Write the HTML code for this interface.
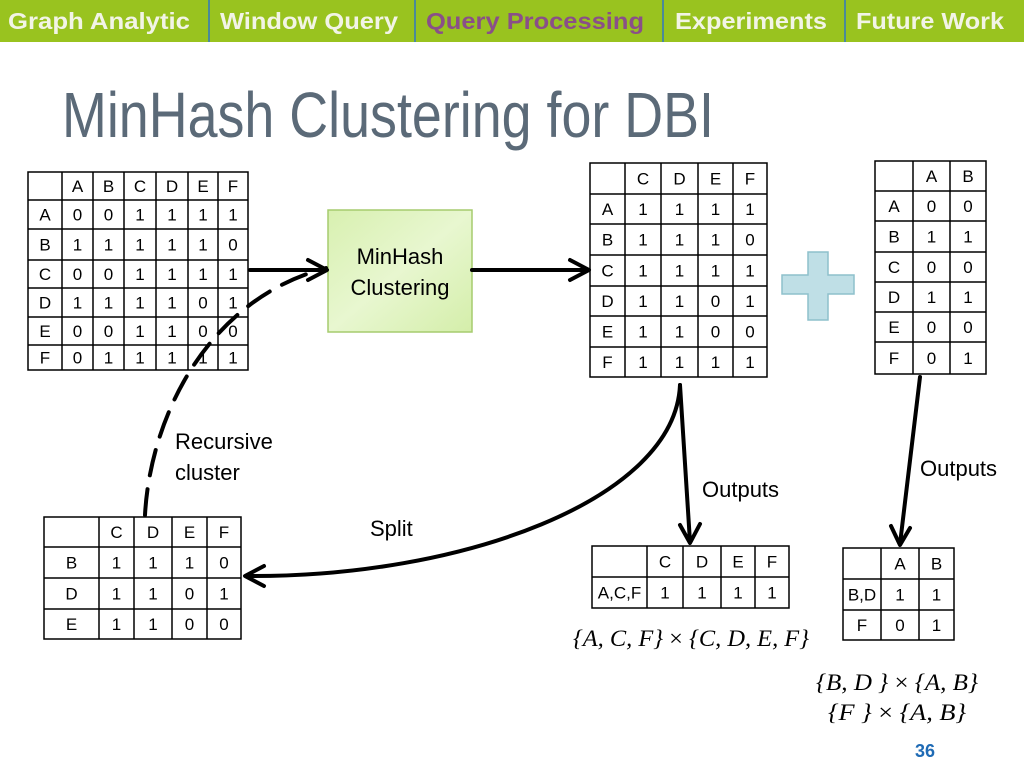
<!DOCTYPE html>
<html><head><meta charset="utf-8"><style>
html,body{margin:0;padding:0;background:#fff;}
svg{display:block;}
.t{font-family:"Liberation Sans",sans-serif;font-size:17px;text-anchor:middle;fill:#000;}
.g{fill:none;stroke:#000;stroke-width:1.5;}
.lab{font-family:"Liberation Sans",sans-serif;font-size:22px;fill:#000;}
.m{font-family:"Liberation Serif",serif;font-size:23px;font-style:italic;fill:#000;text-anchor:middle;}
.tab{font-family:"Liberation Sans",sans-serif;font-size:23px;font-weight:bold;fill:#f2f4e6;}
</style></head><body>
<svg width="1024" height="768" viewBox="0 0 1024 768" xmlns="http://www.w3.org/2000/svg">
<defs>
<linearGradient id="gb" x1="0" y1="0" x2="1" y2="1"><stop offset="0" stop-color="#d8f0b0"/><stop offset="0.5" stop-color="#e8f7d0"/><stop offset="1" stop-color="#d4eeaa"/></linearGradient>
</defs>
<rect x="0" y="0" width="1024" height="42" fill="#99c31f"/>
<g stroke="#4a8a9a" stroke-width="2"><line x1="209" y1="0" x2="209" y2="42"/><line x1="415" y1="0" x2="415" y2="42"/><line x1="663" y1="0" x2="663" y2="42"/><line x1="845" y1="0" x2="845" y2="42"/></g>
<text class="tab" x="8" y="29" textLength="182" lengthAdjust="spacingAndGlyphs">Graph Analytic</text>
<text class="tab" x="220" y="29" textLength="178" lengthAdjust="spacingAndGlyphs">Window Query</text>
<text class="tab" x="426" y="29" style="fill:#8a4f88" textLength="218" lengthAdjust="spacingAndGlyphs">Query Processing</text>
<text class="tab" x="675" y="29" textLength="152" lengthAdjust="spacingAndGlyphs">Experiments</text>
<text class="tab" x="856" y="29" textLength="148" lengthAdjust="spacingAndGlyphs">Future Work</text>
<text x="62" y="137" font-family="'Liberation Sans Narrow','Liberation Sans',sans-serif" font-size="64" fill="#5b6a78" textLength="652" lengthAdjust="spacingAndGlyphs">MinHash Clustering for DBI</text>

<rect x="28" y="172" width="220" height="198" class="g"/>
<g class="g"><path d="M62 172V370M93 172V370M124 172V370M156 172V370M188 172V370M218 172V370M28 200H248M28 229H248M28 260H248M28 288H248M28 317H248M28 345H248"/></g>
<g class="t">
<text x="77.5" y="192">A</text><text x="108.5" y="192">B</text><text x="140" y="192">C</text><text x="172" y="192">D</text><text x="203" y="192">E</text><text x="233" y="192">F</text>
<text x="45" y="220.5">A</text><text x="77.5" y="220.5">0</text><text x="108.5" y="220.5">0</text><text x="140" y="220.5">1</text><text x="172" y="220.5">1</text><text x="203" y="220.5">1</text><text x="233" y="220.5">1</text>
<text x="45" y="250.5">B</text><text x="77.5" y="250.5">1</text><text x="108.5" y="250.5">1</text><text x="140" y="250.5">1</text><text x="172" y="250.5">1</text><text x="203" y="250.5">1</text><text x="233" y="250.5">0</text>
<text x="45" y="280">C</text><text x="77.5" y="280">0</text><text x="108.5" y="280">0</text><text x="140" y="280">1</text><text x="172" y="280">1</text><text x="203" y="280">1</text><text x="233" y="280">1</text>
<text x="45" y="308.5">D</text><text x="77.5" y="308.5">1</text><text x="108.5" y="308.5">1</text><text x="140" y="308.5">1</text><text x="172" y="308.5">1</text><text x="203" y="308.5">0</text><text x="233" y="308.5">1</text>
<text x="45" y="337">E</text><text x="77.5" y="337">0</text><text x="108.5" y="337">0</text><text x="140" y="337">1</text><text x="172" y="337">1</text><text x="203" y="337">0</text><text x="233" y="337">0</text>
<text x="45" y="363.5">F</text><text x="77.5" y="363.5">0</text><text x="108.5" y="363.5">1</text><text x="140" y="363.5">1</text><text x="172" y="363.5">1</text><text x="203" y="363.5">1</text><text x="233" y="363.5">1</text>
</g>

<rect x="328" y="210" width="144" height="122" fill="url(#gb)" stroke="#a6cc6e" stroke-width="1.5"/>
<text class="lab" x="400" y="264" text-anchor="middle">MinHash</text>
<text class="lab" x="400" y="295" text-anchor="middle">Clustering</text>

<rect x="590" y="163" width="177" height="214" class="g"/>
<g class="g"><path d="M625 163V377M661 163V377M698 163V377M733 163V377M590 194H767M590 224H767M590 255H767M590 286H767M590 316H767M590 347H767"/></g>
<g class="t">
<text x="643" y="184.5">C</text><text x="679.5" y="184.5">D</text><text x="715.5" y="184.5">E</text><text x="750" y="184.5">F</text>
<text x="607.5" y="215">A</text><text x="643" y="215">1</text><text x="679.5" y="215">1</text><text x="715.5" y="215">1</text><text x="750" y="215">1</text>
<text x="607.5" y="245.5">B</text><text x="643" y="245.5">1</text><text x="679.5" y="245.5">1</text><text x="715.5" y="245.5">1</text><text x="750" y="245.5">0</text>
<text x="607.5" y="276.5">C</text><text x="643" y="276.5">1</text><text x="679.5" y="276.5">1</text><text x="715.5" y="276.5">1</text><text x="750" y="276.5">1</text>
<text x="607.5" y="307">D</text><text x="643" y="307">1</text><text x="679.5" y="307">1</text><text x="715.5" y="307">0</text><text x="750" y="307">1</text>
<text x="607.5" y="337.5">E</text><text x="643" y="337.5">1</text><text x="679.5" y="337.5">1</text><text x="715.5" y="337.5">0</text><text x="750" y="337.5">0</text>
<text x="607.5" y="368">F</text><text x="643" y="368">1</text><text x="679.5" y="368">1</text><text x="715.5" y="368">1</text><text x="750" y="368">1</text>
</g>

<path d="M808 252H828V275H854V294H828V320H808V294H782V275H808Z" fill="#bfdfe6" stroke="#8ec0cc" stroke-width="1.5"/>

<rect x="875" y="161" width="111" height="213" class="g"/>
<g class="g"><path d="M913 161V374M950 161V374M875 191H986M875 221H986M875 252H986M875 282H986M875 312H986M875 342H986"/></g>
<g class="t">
<text x="931.5" y="182">A</text><text x="968" y="182">B</text>
<text x="894" y="212">A</text><text x="931.5" y="212">0</text><text x="968" y="212">0</text>
<text x="894" y="242.5">B</text><text x="931.5" y="242.5">1</text><text x="968" y="242.5">1</text>
<text x="894" y="273">C</text><text x="931.5" y="273">0</text><text x="968" y="273">0</text>
<text x="894" y="303">D</text><text x="931.5" y="303">1</text><text x="968" y="303">1</text>
<text x="894" y="333">E</text><text x="931.5" y="333">0</text><text x="968" y="333">0</text>
<text x="894" y="364">F</text><text x="931.5" y="364">0</text><text x="968" y="364">1</text>
</g>

<rect x="44" y="517" width="197" height="122" class="g"/>
<g class="g"><path d="M99 517V639M134 517V639M172 517V639M207 517V639M44 547H241M44 578H241M44 609H241"/></g>
<g class="t">
<text x="116.5" y="538">C</text><text x="153" y="538">D</text><text x="189.5" y="538">E</text><text x="224" y="538">F</text>
<text x="71.5" y="568.5">B</text><text x="116.5" y="568.5">1</text><text x="153" y="568.5">1</text><text x="189.5" y="568.5">1</text><text x="224" y="568.5">0</text>
<text x="71.5" y="599.5">D</text><text x="116.5" y="599.5">1</text><text x="153" y="599.5">1</text><text x="189.5" y="599.5">0</text><text x="224" y="599.5">1</text>
<text x="71.5" y="630">E</text><text x="116.5" y="630">1</text><text x="153" y="630">1</text><text x="189.5" y="630">0</text><text x="224" y="630">0</text>
</g>

<rect x="592" y="546" width="197" height="62" class="g"/>
<g class="g"><path d="M647 546V608M683 546V608M721 546V608M755 546V608M592 577H789"/></g>
<g class="t">
<text x="665" y="567.5">C</text><text x="702" y="567.5">D</text><text x="738" y="567.5">E</text><text x="772" y="567.5">F</text>
<text x="619.5" y="598.5">A,C,F</text><text x="665" y="598.5">1</text><text x="702" y="598.5">1</text><text x="738" y="598.5">1</text><text x="772" y="598.5">1</text>
</g>

<rect x="843" y="548" width="111" height="92" class="g"/>
<g class="g"><path d="M881 548V640M919 548V640M843 579H954M843 610H954"/></g>
<g class="t">
<text x="900" y="569.5">A</text><text x="936.5" y="569.5">B</text>
<text x="862" y="600.5">B,D</text><text x="900" y="600.5">1</text><text x="936.5" y="600.5">1</text>
<text x="862" y="631">F</text><text x="900" y="631">0</text><text x="936.5" y="631">1</text>
</g>

<text class="m" x="691" y="646" textLength="236" lengthAdjust="spacingAndGlyphs">{A, C, F} <tspan font-style="normal">×</tspan> {C, D, E, F}</text>
<text class="m" x="897" y="690" textLength="162" lengthAdjust="spacingAndGlyphs">{B, D } <tspan font-style="normal">×</tspan> {A, B}</text>
<text class="m" x="897" y="720" textLength="138" lengthAdjust="spacingAndGlyphs">{F } <tspan font-style="normal">×</tspan> {A, B}</text>

<g fill="none" stroke="#000" stroke-width="4" stroke-linecap="round" stroke-linejoin="round">
<path d="M250 270H326"/><path d="M308 260L327 270L308 280"/>
<path d="M472 270H588"/><path d="M570 260L589 270L570 280"/>
<path d="M145 515C150 420 205 300 326 268" stroke-dasharray="26 14"/>
<path d="M680 385C675 500 460 578 246 576"/><path d="M264 566L245 576L264 586"/>
<path d="M680 385L690 542"/><path d="M680 525L690 543L700 524"/>
<path d="M920 377L900 544"/><path d="M891 526L900 545L910 528"/>
</g>

<text class="lab" x="175" y="449">Recursive</text>
<text class="lab" x="175" y="480">cluster</text>
<text class="lab" x="370" y="536">Split</text>
<text class="lab" x="702" y="497">Outputs</text>
<text class="lab" x="920" y="476">Outputs</text>
<text x="915" y="757" font-family="'Liberation Sans',sans-serif" font-size="18" font-weight="bold" fill="#1f6bb5">36</text>
</svg>
</body></html>
